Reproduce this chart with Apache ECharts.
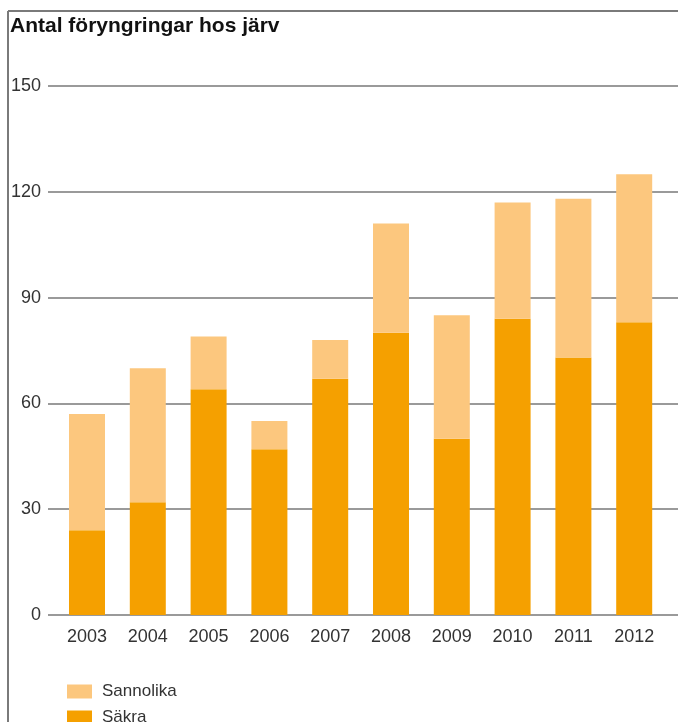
<!DOCTYPE html>
<html>
<head>
<meta charset="utf-8">
<script src="https://cdn.jsdelivr.net/npm/echarts@6/dist/echarts.min.js"></script>
<style>html,body{margin:0;padding:0;background:#fff;}#c{width:678px;height:722px;}</style>
</head>
<body>
<div id="c"></div>
<script>
const title = 'Antal föryngringar hos järv';
const years = ['2003','2004','2005','2006','2007','2008','2009','2010','2011','2012'];
const sakra = [24, 32, 64, 47, 67, 80, 50, 84, 73, 83];
const sannolika = [33, 38, 15, 8, 11, 31, 35, 33, 45, 42];
const yTicks = [0, 30, 60, 90, 120, 150];
const seriesNames = ['Säkra', 'Sannolika'];

const chart = echarts.init(document.getElementById('c'), null, {renderer: 'canvas'});
const font = 'Liberation Sans, Arial, sans-serif';
const legendBase = {
  orient: 'vertical', left: 67,
  itemWidth: 25, itemHeight: 14, padding: 0,
  icon: 'rect',
  textStyle: {fontFamily: font, fontSize: 17, color: '#333', padding: [0, 0, 0, 5]}
};
chart.setOption({
  animation: false,
  backgroundColor: '#fff',
  title: {
    text: title, left: 10, top: 16, padding: 0,
    textStyle: {fontFamily: font, fontSize: 21, fontWeight: 'bold', color: '#111'}
  },
  graphic: [
    {type: 'line', shape: {x1: 8, y1: 11, x2: 678, y2: 11}, style: {stroke: '#7a7a7a', lineWidth: 2}},
    {type: 'line', shape: {x1: 8, y1: 11, x2: 8, y2: 722}, style: {stroke: '#7a7a7a', lineWidth: 2}}
  ],
  legend: [
    Object.assign({}, legendBase, {top: 683, data: [seriesNames[1]]}),
    Object.assign({}, legendBase, {top: 709, data: [seriesNames[0]]})
  ],
  grid: [
    {left: 48, right: 0, top: 86, bottom: 107},
    {left: 56.6, right: 13.4, top: 86, bottom: 107}
  ],
  xAxis: [
    {gridIndex: 0, type: 'category', data: years, show: false},
    {gridIndex: 1, type: 'category', data: years,
     axisLine: {show: false}, axisTick: {show: false},
     axisLabel: {fontFamily: font, fontSize: 18, color: '#333', margin: 13}}
  ],
  yAxis: [
    {gridIndex: 0, type: 'value', min: yTicks[0], max: yTicks[yTicks.length-1], interval: 30,
     axisLine: {show: false}, axisTick: {show: false},
     axisLabel: {fontFamily: font, fontSize: 18, color: '#333', margin: 7},
     splitLine: {lineStyle: {color: '#9a9a9a', width: 2}}},
    {gridIndex: 1, type: 'value', min: yTicks[0], max: yTicks[yTicks.length-1], interval: 30, show: false,
     splitLine: {show: false}}
  ],
  series: [
    {name: seriesNames[0], type: 'bar', stack: 't', xAxisIndex: 1, yAxisIndex: 1,
     data: sakra, barWidth: 36, itemStyle: {color: '#F5A000'}},
    {name: seriesNames[1], type: 'bar', stack: 't', xAxisIndex: 1, yAxisIndex: 1,
     data: sannolika, barWidth: 36, itemStyle: {color: '#FCC77E'}}
  ]
});
</script>
</body>
</html>
